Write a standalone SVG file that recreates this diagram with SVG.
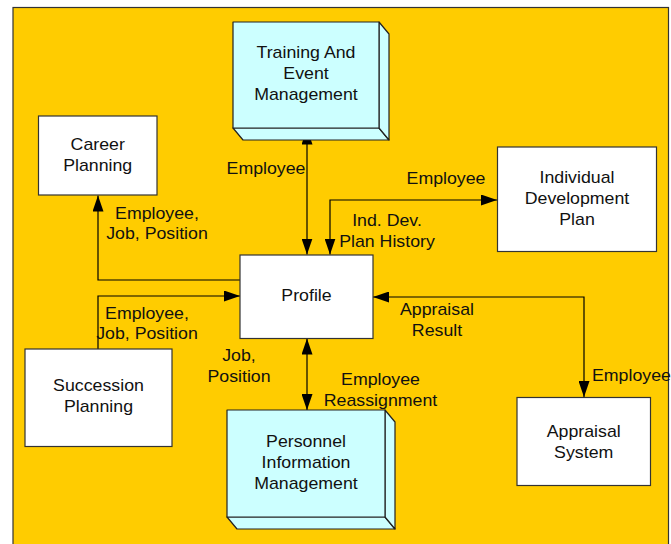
<svg xmlns="http://www.w3.org/2000/svg" width="671" height="544" viewBox="0 0 671 544">
  <defs>
    <marker id="arr" markerUnits="userSpaceOnUse" markerWidth="16" markerHeight="11" refX="16" refY="5.5" orient="auto-start-reverse">
      <path d="M0,0 L16,5.5 L0,11 Z" fill="#000"/>
    </marker>
    <style>
      .bg { fill: #FFCC00; stroke: #333; stroke-width: 1.2; }
      .box { fill: #FFFFFF; stroke: #333; stroke-width: 1.2; }
      .cube { fill: #CCFFFF; stroke: #222; stroke-width: 1.2; stroke-linejoin: round; }
      .t { font-family: "Liberation Sans", Arial, sans-serif; font-size: 16px; fill: #111; text-anchor: middle; }
      .s { text-anchor: start; }
      .c { fill: none; stroke: #000; stroke-width: 1.2; }
    </style>
  </defs>

  <rect class="bg" x="13" y="7.5" width="655.5" height="545"/>

  <g id="connectors">
    <path class="c" d="M307,128.5 L307,254.5" marker-start="url(#arr)" marker-end="url(#arr)"/>
    <path class="c" d="M330,254.5 L330,200 L497,200" marker-start="url(#arr)" marker-end="url(#arr)"/>
    <path class="c" d="M240,280 L98,280 L98,195.5" marker-end="url(#arr)"/>
    <path class="c" d="M98,349 L98,296 L240,296" marker-end="url(#arr)"/>
    <path class="c" d="M373,297 L584,297 L584,397" marker-start="url(#arr)" marker-end="url(#arr)"/>
    <path class="c" d="M307,338.5 L307,410" marker-start="url(#arr)" marker-end="url(#arr)"/>

    <text class="t" transform="translate(266,0) scale(1.11,1)"><tspan x="0" y="174">Employee</tspan></text>
    <text class="t" transform="translate(446,0) scale(1.11,1)"><tspan x="0" y="184">Employee</tspan></text>
    <text class="t" transform="translate(387,0) scale(1.11,1)"><tspan x="0" y="226.5">Ind. Dev.</tspan><tspan x="0" y="247.5">Plan History</tspan></text>
    <text class="t" transform="translate(157,0) scale(1.11,1)"><tspan x="0" y="219">Employee,</tspan><tspan x="0" y="239.5">Job, Position</tspan></text>
    <text class="t" transform="translate(147,0) scale(1.11,1)"><tspan x="0" y="319">Employee,</tspan><tspan x="0" y="339.5">Job, Position</tspan></text>
    <text class="t" transform="translate(437,0) scale(1.11,1)"><tspan x="0" y="315.5">Appraisal</tspan><tspan x="0" y="336.5">Result</tspan></text>
    <text class="t s" transform="translate(592,0) scale(1.11,1)"><tspan x="0" y="381">Employee</tspan></text>
    <text class="t" transform="translate(239,0) scale(1.11,1)"><tspan x="0" y="361.5">Job,</tspan><tspan x="0" y="382">Position</tspan></text>
    <text class="t" transform="translate(380.5,0) scale(1.11,1)"><tspan x="0" y="385">Employee</tspan><tspan x="0" y="406">Reassignment</tspan></text>
  </g>

  <g id="training">
    <path class="cube" d="M233,128 L379,128 L389,140 L243,140 Z"/>
    <path class="cube" d="M379,22 L389,34 L389,140 L379,128 Z"/>
    <rect class="cube" x="233" y="22" width="146" height="106"/>
    <text class="t" transform="translate(306,0) scale(1.11,1)"><tspan x="0" y="58.5">Training And</tspan><tspan x="0" y="79.5">Event</tspan><tspan x="0" y="100.5">Management</tspan></text>
  </g>

  <g id="career">
    <rect class="box" x="38.5" y="116" width="118.5" height="79"/>
    <text class="t" transform="translate(97.7,0) scale(1.11,1)"><tspan x="0" y="150">Career</tspan><tspan x="0" y="171.5">Planning</tspan></text>
  </g>

  <g id="idp">
    <rect class="box" x="497.5" y="147" width="159" height="104.5"/>
    <text class="t" transform="translate(577,0) scale(1.11,1)"><tspan x="0" y="183.5">Individual</tspan><tspan x="0" y="204.5">Development</tspan><tspan x="0" y="225">Plan</tspan></text>
  </g>

  <g id="profile">
    <rect class="box" x="240" y="255" width="133" height="83.5"/>
    <text class="t" transform="translate(306.5,0) scale(1.11,1)"><tspan x="0" y="301">Profile</tspan></text>
  </g>

  <g id="succession">
    <rect class="box" x="25" y="349" width="147" height="97.5"/>
    <text class="t" transform="translate(98.5,0) scale(1.11,1)"><tspan x="0" y="391.5">Succession</tspan><tspan x="0" y="412.5">Planning</tspan></text>
  </g>

  <g id="appraisal">
    <rect class="box" x="517" y="397.5" width="133.5" height="88"/>
    <text class="t" transform="translate(583.7,0) scale(1.11,1)"><tspan x="0" y="437">Appraisal</tspan><tspan x="0" y="458">System</tspan></text>
  </g>

  <g id="personnel">
    <path class="cube" d="M227,517 L385,517 L395,529 L237,529 Z"/>
    <path class="cube" d="M385,410 L395,422 L395,529 L385,517 Z"/>
    <rect class="cube" x="227" y="410" width="158" height="107"/>
    <text class="t" transform="translate(306,0) scale(1.11,1)"><tspan x="0" y="447">Personnel</tspan><tspan x="0" y="468">Information</tspan><tspan x="0" y="489">Management</tspan></text>
  </g>
</svg>
